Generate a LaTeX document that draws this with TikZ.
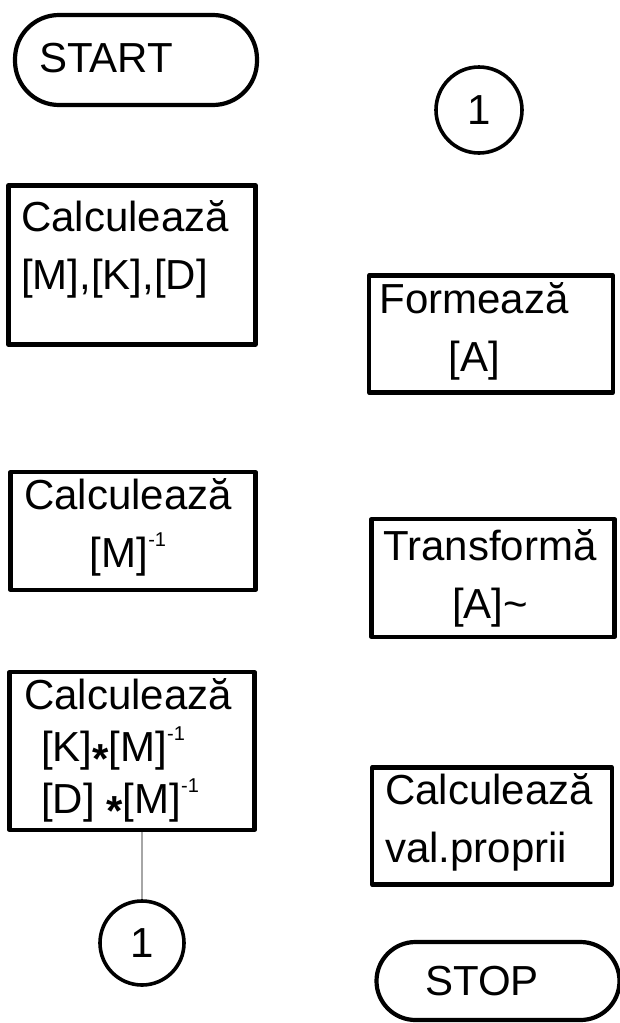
\documentclass[tikz,border=0pt]{standalone}
\usepackage{fontspec}
\setmainfont{Liberation Sans}
\begin{document}
\begin{tikzpicture}[x=1pt,y=-1pt,
  frame/.style={draw=black,line width=4.2pt,inner sep=0pt,line join=round},
  box/.style={frame,rectangle},
  term/.style={frame,rectangle,rounded corners=#1},
  conn/.style={frame,circle,line width=3.6pt},
  txt/.style={inner sep=0pt,font=\fontsize{42}{58}\selectfont},
  faint/.style={draw=black!35,line width=1.2pt}]
\useasboundingbox (0,0) rectangle (620,1023);
\newcommand{\inv}[1]{\raisebox{0.5em}{\fontsize{20}{20}\selectfont #1}}
\newcommand{\mul}{\raisebox{-0.28em}{\bfseries *}}

% left column
\node[term=44pt,minimum width=242pt,minimum height=90pt] (start) at (136,60) {};
\node[txt] (tstart) at (106,58) {START};

\node[box,minimum width=247pt,minimum height=159pt] (b1) at (132,265) {};
\node[txt,anchor=west,align=left] (t1) at (21,249) {Calculează\\{}[M],[K],[D]};

\node[box,minimum width=245pt,minimum height=118pt] (b2) at (133,531) {};
\node[txt,align=center] (t2) at (128,527) {Calculează\\{}[M]\inv{-1}};

\node[box,minimum width=245pt,minimum height=158pt] (b3) at (132,751) {};
\node[txt,anchor=west,align=left,font=\fontsize{42}{52}\selectfont] (t3) at (24,752)
  {Calculează\\\hspace*{17pt}[K]\mul[M]\inv{-1}\\\hspace*{17pt}[D] \mul[M]\inv{-1}};

\node[conn,minimum size=84pt] (c1) at (142,943) {};
\node[txt] (tc1) at (142,943) {1};

\draw[faint] (b3.south -| c1.north) -- (c1.north);

% right column
\node[conn,minimum size=86pt] (c2) at (479,110) {};
\node[txt] (tc2) at (479,110) {1};

\node[box,minimum width=244pt,minimum height=117pt] (b4) at (491,334) {};
\node[txt,align=center] (t4) at (474,331) {Formează\\{}[A]};

\node[box,minimum width=243pt,minimum height=118pt] (b5) at (493,578) {};
\node[txt,align=center] (t5) at (490,578) {Transformă\\{}[A]\textasciitilde};

\node[box,minimum width=240pt,minimum height=117pt] (b6) at (492,826) {};
\node[txt,anchor=west,align=left] (t6) at (385,822) {Calculează\\val.proprii};

\node[term=39pt,minimum width=243pt,minimum height=78pt] (stop) at (498,981) {};
\node[txt] (tstop) at (482,981) {STOP};
\end{tikzpicture}
\end{document}
